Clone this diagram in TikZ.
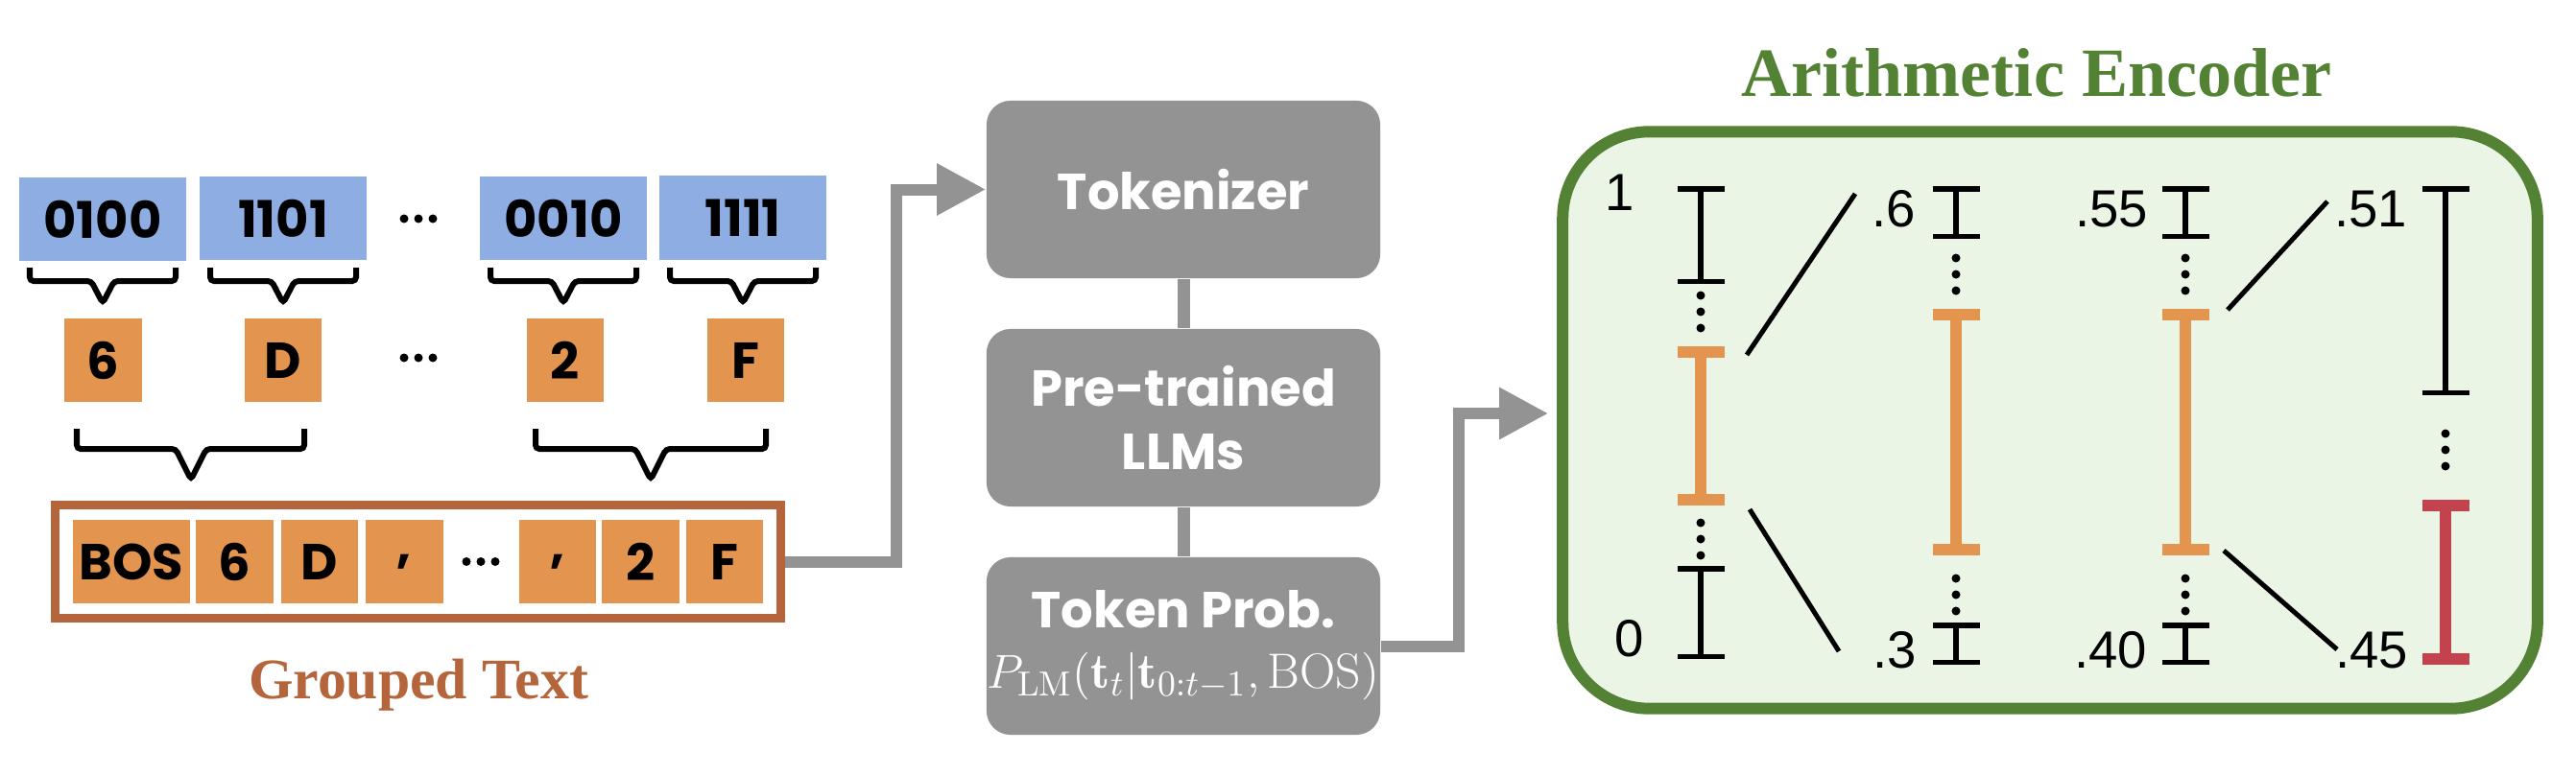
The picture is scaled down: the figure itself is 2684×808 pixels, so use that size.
\documentclass[tikz,border=0pt]{standalone}
\usepackage{graphicx}
\usepackage{fontspec}
\newfontfamily\boxfont{Poppins}
\newfontfamily\headfont{Liberation Serif}
\newfontfamily\numfont{Liberation Sans}
\usetikzlibrary{arrows.meta,positioning}
\definecolor{bitblue}{HTML}{8EADE3}
\definecolor{hexorange}{HTML}{E3954F}
\definecolor{grpbrown}{HTML}{B5653B}
\definecolor{llmgray}{HTML}{939393}
\definecolor{encgreen}{HTML}{548235}
\definecolor{encfill}{HTML}{EBF5E6}
\definecolor{pickred}{HTML}{C4424E}
\tikzset{
  bits/.style={fill=bitblue,minimum width=1.74cm,minimum height=0.87cm,inner sep=0pt,font=\boxfont\bfseries\fontsize{15}{17}\selectfont},
  hex/.style={fill=hexorange,minimum width=0.8cm,minimum height=0.87cm,inner sep=0pt,font=\boxfont\bfseries\fontsize{15}{17}\selectfont},
  block/.style={fill=llmgray,rounded corners=0.25cm,minimum width=4.1cm,minimum height=1.85cm,inner sep=0pt,text=white,align=center,font=\boxfont\bfseries\fontsize{15}{19}\selectfont},
  num/.style={inner sep=0pt,font=\numfont\fontsize{15.5}{17}\selectfont},
  brc/.style={line width=0.06cm,rounded corners=0.04cm},
  flow/.style={llmgray,line width=0.12cm,-{Triangle[length=0.51cm,width=0.51cm]}},
  link/.style={llmgray,line width=0.13cm},
  ivb/.style={line width=0.055cm,arrows={Bar[width=0.49cm,line width=0.055cm]-Bar[width=0.49cm,line width=0.055cm]}},
  ivo/.style={hexorange,line width=0.12cm,arrows={Bar[width=0.49cm,line width=0.12cm]-Bar[width=0.49cm,line width=0.12cm]}},
  ivr/.style={ivo,pickred},
  zoomln/.style={line width=0.05cm}
}
\begin{document}
\begin{tikzpicture}[x=0.01cm,y=0.01cm,line cap=butt]
\useasboundingbox (0,0) rectangle (2684,808);
% bits and hex digits
\node[bits] (b1) at (107,579.5) {0100};
\node[bits] (b2) at (295,580.5) {1101};
\node[bits] (b3) at (587,580.5) {0010};
\node[bits] (b4) at (774,581) {1111};
\node[hex] (h1) at (107.5,432.5) {6};
\node[hex] (h2) at (295,432.5) {D};
\node[hex] (h3) at (589,432.5) {2};
\node[hex] (h4) at (777,432.5) {F};
\foreach \x/\y in {436/580,436/435,501/222.5,2143/369}
    \foreach \k in {-1,0,1} \fill ({\x+15*\k},\y) circle[radius=0.045cm];
\foreach \c in {107,295,587,774}
    \draw[brc] ({\c-76},529) -- ({\c-76},515) -- ({\c-12},515) -- (\c,492) -- ({\c+12},515) -- ({\c+76},515) -- ({\c+76},529);
\foreach \a/\c/\b in {80/199/317,558/678/798}
    \draw[brc] (\a,361) -- (\a,340) -- ({\c-16},340) -- (\c,308) -- ({\c+16},340) -- (\b,340) -- (\b,361);
% grouped text
\node[draw=grpbrown,line width=0.09cm,minimum width=7.56cm,minimum height=1.18cm] (grp) at (435.5,222.5) {};
\node[hex,minimum width=1.22cm] (t0) at (137,222.5) {BOS};
\node[hex] (t1) at (244.5,222.5) {6};
\node[hex] (t2) at (333,222.5) {D};
\node[hex] (t3) at (421.5,222.5) {,};
\node[hex] (t4) at (581,222.5) {,};
\node[hex] (t5) at (667.5,222.5) {2};
\node[hex] (t6) at (755,222.5) {F};
\node[anchor=base,text=grpbrown,font=\headfont\bfseries\fontsize{17}{20}\selectfont] (grpl) at (436,80) {Grouped Text};
% language model
\node[block] (tkz) at (1233,610.5) {Tokenizer};
\node[block] (llm) at (1233,372.5) {Pre-trained\\LLMs};
\node[block] (prob) at (1233,134.5) {Token Prob.\\[-1pt]{\mdseries\scalebox{0.98}{$P_{\mathrm{LM}}(\mathbf{t}_t|\mathbf{t}_{0:t-1},\mathrm{BOS})$}}\rule[-4pt]{0pt}{4pt}};
\draw[link] (tkz) -- (llm);
\draw[link] (llm) -- (prob);
% arithmetic encoder
\node[draw=encgreen,fill=encfill,line width=0.12cm,rounded corners=0.9cm,minimum width=10.15cm,minimum height=6.01cm] (enc) at (2136,370) {};
\node[anchor=base,text=encgreen,font=\headfont\bfseries\fontsize{20.5}{24}\selectfont] (enct) at (2122,708) {Arithmetic Encoder};
\draw[flow] (grp.east) -- ++(116,0) |- (tkz.west);
\draw[flow,shorten >=0.09cm] (prob.east) -- ++(81,0) |- ([yshift=0.07cm]enc.west);
\draw[ivb] (1772,614) -- (1772,512);
\draw[ivo] (1772,447) -- (1772,281);
\draw[ivb] (1772,218) -- (1772,121);
\foreach \x in {2038,2277}{
    \draw[ivb] (\x,614) -- (\x,559);
    \draw[ivo] (\x,486) -- (\x,229);
    \draw[ivb] (\x,159) -- (\x,115);
}
\draw[ivb] (2548,614) -- (2548,396);
\draw[ivr] (2548,287) -- (2548,115.5);
\foreach \x/\y in {1772/500,1772/263,2038/539,2038/205,2277/539,2277/205,2548/356}
    \foreach \k in {0,1,2} \fill (\x,{\y-17*\k}) circle[radius=0.045cm];
\node[num] (v1) at (1688,607) {1};
\node[num] (v0) at (1698,142) {0};
\node[num] (v6) at (1973,590) {.6};
\node[num] (v3) at (1974,130) {.3};
\node[num] (v55) at (2200,590) {.55};
\node[num] (v40) at (2199,130) {.40};
\node[num] (v51) at (2470,590) {.51};
\node[num] (v45) at (2471,130) {.45};
\coordinate (s1) at (1820,438); \coordinate (e1) at (1933,606);
\coordinate (s2) at (1823,277); \coordinate (e2) at (1916,129);
\coordinate (s3) at (2321,485); \coordinate (e3) at (2425,598);
\coordinate (s4) at (2317,234); \coordinate (e4) at (2435,131);
\draw[zoomln] (s1) -- (e1) (s2) -- (e2) (s3) -- (e3) (s4) -- (e4);
\end{tikzpicture}
\end{document}
